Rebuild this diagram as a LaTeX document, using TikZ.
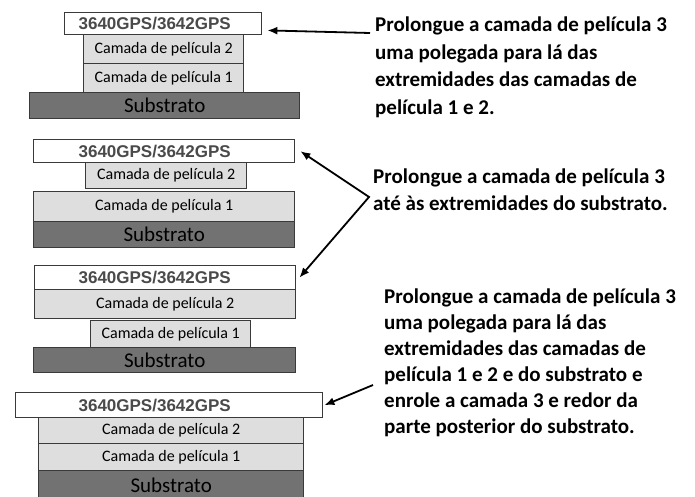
\documentclass[tikz,border=0pt]{standalone}
\usepackage{fontspec}
\setmainfont{Carlito}
\newfontfamily\gpsfont{Liberation Sans}
\usetikzlibrary{arrows.meta}
\definecolor{edgegray}{HTML}{3A3A3A}
\definecolor{filmfill}{HTML}{DEDEDE}
\definecolor{subfill}{HTML}{727272}
\definecolor{gpstext}{HTML}{4A4A4A}
\begin{document}
\begin{tikzpicture}[x=1pt,y=-1pt,
  box/.style={draw=edgegray, line width=1.4pt, inner sep=0pt, anchor=north west},
  topfilm/.style={box, fill=white, font=\gpsfont\bfseries\fontsize{17}{19}\selectfont, text=gpstext},
  film/.style={box, fill=filmfill, font=\fontsize{16}{18}\selectfont, text=black},
  subst/.style={box, fill=subfill, font=\fontsize{21}{23}\selectfont, text=black},
  note/.style={anchor=base west, inner sep=0pt, align=left, font=\bfseries\fontsize{21}{27.5}\selectfont, text=black},
  arr/.style={line width=1.8pt, -{Latex[length=10pt,width=8pt]}}
]
\useasboundingbox (0,0) rectangle (695,497);
\clip (0,0) rectangle (695,497);

% Stack 1
\node[subst, minimum width=270pt, minimum height=26pt] (s1) at (29,92) {Substrato};
\node[film, minimum width=160pt, minimum height=29pt] (c1a) at (83,63) {Camada de película 1};
\node[film, minimum width=160pt, minimum height=29pt] (c2a) at (83,34) {Camada de película 2};
\node[topfilm, minimum width=197pt, minimum height=22pt, text width=197pt, align=center] (t1) at (64,12) {\hspace*{-17pt}3640GPS/3642GPS};

% Stack 2
\node[subst, minimum width=261pt, minimum height=26pt] (s2) at (33,221) {Substrato};
\node[film, minimum width=261pt, minimum height=30pt] (c1b) at (33,191) {Camada de película 1};
\node[film, minimum width=161pt, minimum height=26pt] (c2b) at (85,162) {Camada de película 2};
\node[topfilm, minimum width=261pt, minimum height=23pt, text width=261pt, align=center] (t2) at (33,139) {\hspace*{-19pt}3640GPS/3642GPS};

% Stack 3
\node[subst, minimum width=262pt, minimum height=25pt] (s3) at (33,347) {Substrato};
\node[film, minimum width=160pt, minimum height=27pt] (c1c) at (90,320) {Camada de película 1};
\node[film, minimum width=261pt, minimum height=29pt] (c2c) at (34,289) {Camada de película 2};
\node[topfilm, minimum width=261pt, minimum height=24pt, text width=261pt, align=center] (t3) at (34,265) {\hspace*{-21pt}3640GPS/3642GPS};

% Stack 4
\node[subst, minimum width=265pt, minimum height=30pt] (s4) at (38,470) {Substrato};
\node[film, minimum width=265pt, minimum height=27pt] (c1d) at (38,443) {Camada de película 1};
\node[film, minimum width=265pt, minimum height=26pt] (c2d) at (38,417) {Camada de película 2};
\node[topfilm, minimum width=307pt, minimum height=25pt, text width=307pt, align=center] (t4) at (15,392) {\hspace*{-29pt}3640GPS/3642GPS};

% Notes (anchored at the baseline of their last line)
\node[note] (n1) at (375,114.5) {Prolongue a camada de película 3\\uma polegada para lá das\\extremidades das camadas de\\película 1 e 2.};
\node[note, font=\bfseries\fontsize{21}{27}\selectfont] (n2) at (373,210) {Prolongue a camada de película 3\\até às extremidades do substrato.};
\node[note, font=\bfseries\fontsize{21}{26}\selectfont] (n3) at (384,433) {Prolongue a camada de película 3\\uma polegada para lá das\\extremidades das camadas de\\película 1 e 2 e do substrato e\\enrole a camada 3 e redor da\\parte posterior do substrato.};

% Arrows
\coordinate (a1) at (370,33);
\coordinate (v2) at (369,197);
\coordinate (a3) at (373,385);
\draw[arr] (a1) -- ([xshift=5pt,yshift=5pt]t1.south east);
\draw[arr, {Latex[length=10pt,width=8pt]}-{Latex[length=10pt,width=8pt]}] ([xshift=5pt]t2.east) -- (v2) -- ([xshift=3pt]t3.east);
\draw[arr] (a3) -- ([xshift=1pt]t4.east);
\end{tikzpicture}
\end{document}
